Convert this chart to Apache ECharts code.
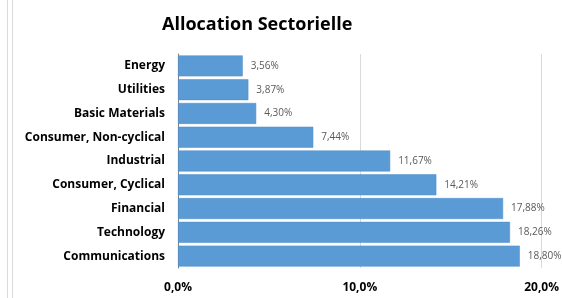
<!DOCTYPE html>
<html lang="fr">
<head>
    <meta charset="UTF-8">
    <title>Allocation Sectorielle</title>
    <script src="https://cdn.jsdelivr.net/npm/echarts@6/dist/echarts.min.js"></script>
    <style type="text/css">
        html, body { margin: 0; padding: 0; background: #fff; }
        #chart { width: 562px; height: 298px; }
    </style>
</head>
<body>
<div id="chart"></div>
<script type="text/javascript">
    // secteurs (du haut vers le bas)
    var sectors = ['Energy', 'Utilities', 'Basic Materials', 'Consumer, Non-cyclical', 'Industrial',
        'Consumer, Cyclical', 'Financial', 'Technology', 'Communications'];
    // poids en %
    var weights = [3.56, 3.87, 4.30, 7.44, 11.67, 14.21, 17.88, 18.26, 18.80];
    var axisTicks = [0, 10, 20];

    var fmtComma = function (v, d) { return v.toFixed(d).replace('.', ',') + '%'; };
    var font = '"Open Sans", "Liberation Sans", sans-serif';

    var chart = echarts.init(document.getElementById('chart'));
    chart.setOption({
        animation: false,
        textStyle: { fontFamily: font },
        title: {
            text: 'Allocation Sectorielle',
            left: 157,
            top: 11,
            textStyle: { fontSize: 18, fontWeight: 'bold', color: '#000', fontFamily: font }
        },
        graphic: [
            { type: 'line', shape: { x1: 7.5, y1: 0, x2: 7.5, y2: 298 }, style: { stroke: '#d9d9d9', lineWidth: 1 } },
            { type: 'line', shape: { x1: 12.5, y1: 0, x2: 12.5, y2: 298 }, style: { stroke: '#d9d9d9', lineWidth: 1 } }
        ],
        grid: { left: 178, right: 18, top: 54, bottom: 30, containLabel: false },
        xAxis: {
            type: 'value',
            min: axisTicks[0],
            max: axisTicks[axisTicks.length - 1],
            interval: 10,
            axisLine: { show: false },
            axisTick: { show: false },
            splitLine: { show: true, lineStyle: { color: '#d9d9d9' } },
            axisLabel: {
                margin: 14,
                fontSize: 12,
                fontWeight: 'bold',
                color: '#000',
                formatter: function (v) { return fmtComma(v, 1); }
            }
        },
        yAxis: {
            type: 'category',
            inverse: true,
            data: sectors,
            axisLine: { show: true, lineStyle: { color: '#7f7f7f' } },
            axisTick: { show: false },
            axisLabel: { fontSize: 12, fontWeight: 'bold', color: '#000', margin: 13 }
        },
        series: [{
            type: 'bar',
            data: weights,
            barCategoryGap: '12%',
            itemStyle: { color: '#5b9bd5', borderColor: '#4a8bc8', borderWidth: 0.5 },
            label: {
                show: true,
                position: 'right',
                distance: 8,
                fontSize: 10,
                color: '#595959',
                formatter: function (p) { return fmtComma(p.value, 2); }
            }
        }]
    });
</script>
</body>
</html>
